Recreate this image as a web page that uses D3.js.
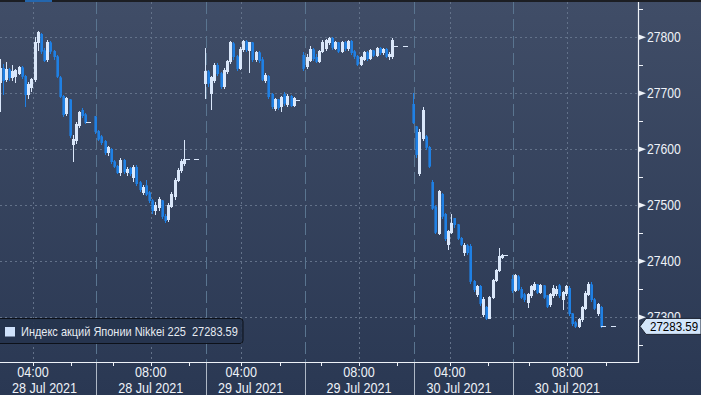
<!DOCTYPE html>
<html>
<head>
<meta charset="utf-8">
<script src="https://cdn.jsdelivr.net/npm/d3@7"></script>
<style>
html, body { margin: 0; padding: 0; background: #2c3a55; }
svg { display: block; }
text { font-family: "Liberation Sans", Arial, sans-serif; }
</style>
</head>
<body>
<svg id="chart" width="701" height="395"></svg>
<script>
// 5-minute bars [open, high, low, close], Nikkei 225, times in MSK
const dayLabels = ["28 Jul 2021", "29 Jul 2021", "30 Jul 2021"];
const morningStart = "03:00";
const afternoonStart = "06:30";

const jul28Morning = [
    [27735, 27750, 27712, 27720], [27720, 27762, 27667, 27745], [27745, 27752, 27697, 27722],
    [27724, 27756, 27720, 27742], [27742, 27745, 27722, 27728], [27728, 27750, 27722, 27738],
    [27730, 27744, 27718, 27740], [27736, 27749, 27733, 27746], [27746, 27748, 27726, 27730],
    [27730, 27732, 27676, 27697], [27697, 27720, 27690, 27715], [27710, 27728, 27702, 27725],
    [27724, 27800, 27720, 27790], [27790, 27812, 27775, 27808], [27805, 27808, 27770, 27775],
    [27776, 27780, 27755, 27758], [27760, 27795, 27756, 27790], [27790, 27794, 27770, 27775],
    [27775, 27778, 27760, 27765], [27765, 27768, 27728, 27730], [27728, 27730, 27692, 27695],
    [27695, 27697, 27658, 27662], [27664, 27693, 27660, 27690], [27688, 27690, 27620, 27625],
    [27608, 27625, 27578, 27618], [27615, 27648, 27610, 27645], [27642, 27668, 27638, 27665],
    [27670, 27673, 27656, 27660], [27662, 27665, 27645, 27648], [27649, 27649, 27649, 27649],
];
const jul28Afternoon = [
    [27658, 27660, 27628, 27632], [27632, 27635, 27615, 27618], [27622, 27625, 27608, 27612],
    [27614, 27617, 27590, 27594], [27594, 27605, 27588, 27604], [27600, 27602, 27574, 27578],
    [27578, 27580, 27566, 27570], [27570, 27572, 27555, 27558], [27558, 27584, 27552, 27580],
    [27580, 27582, 27556, 27560], [27558, 27568, 27552, 27564], [27566, 27569, 27552, 27556],
    [27550, 27572, 27542, 27568], [27568, 27572, 27535, 27538], [27540, 27543, 27524, 27528],
    [27522, 27536, 27518, 27532], [27535, 27545, 27516, 27520], [27522, 27525, 27504, 27508],
    [27508, 27512, 27485, 27490], [27490, 27505, 27482, 27500], [27496, 27514, 27490, 27510],
    [27508, 27510, 27476, 27480], [27480, 27484, 27468, 27472], [27474, 27504, 27470, 27500],
    [27498, 27524, 27495, 27520], [27515, 27548, 27510, 27545], [27545, 27566, 27541, 27562],
    [27562, 27582, 27558, 27578], [27574, 27617, 27570, 27582],
];
const jul29Morning = [
    [27718, 27781, 27690, 27738], [27738, 27742, 27712, 27718], [27700, 27730, 27670, 27728],
    [27722, 27754, 27718, 27750], [27750, 27754, 27730, 27735], [27735, 27738, 27708, 27712],
    [27712, 27745, 27708, 27740], [27738, 27760, 27735, 27756], [27756, 27793, 27752, 27790],
    [27788, 27792, 27760, 27765], [27765, 27768, 27740, 27745], [27745, 27782, 27742, 27778],
    [27778, 27795, 27774, 27792], [27792, 27796, 27774, 27778], [27776, 27792, 27736, 27790],
    [27790, 27792, 27756, 27760], [27760, 27776, 27756, 27772], [27772, 27775, 27754, 27758],
    [27760, 27764, 27722, 27725], [27722, 27736, 27718, 27732], [27730, 27733, 27690, 27694],
    [27698, 27700, 27672, 27676], [27672, 27692, 27668, 27688], [27688, 27690, 27670, 27674],
    [27676, 27695, 27667, 27692], [27698, 27702, 27678, 27682], [27680, 27699, 27676, 27695],
    [27695, 27697, 27675, 27678], [27678, 27693, 27675, 27690], [27688, 27688, 27688, 27688],
];
const jul29Afternoon = [
    [27768, 27773, 27740, 27745], [27748, 27770, 27744, 27764], [27758, 27784, 27755, 27778],
    [27778, 27781, 27758, 27762], [27764, 27770, 27754, 27757], [27757, 27778, 27754, 27775],
    [27775, 27795, 27772, 27790], [27780, 27797, 27776, 27795], [27790, 27800, 27786, 27798],
    [27798, 27800, 27778, 27782], [27780, 27793, 27777, 27790], [27790, 27792, 27772, 27775],
    [27775, 27794, 27772, 27790], [27790, 27793, 27776, 27780], [27780, 27796, 27776, 27793],
    [27793, 27796, 27768, 27772], [27774, 27777, 27762, 27766], [27766, 27769, 27748, 27752],
    [27752, 27767, 27748, 27764], [27760, 27775, 27757, 27772], [27772, 27775, 27758, 27762],
    [27762, 27779, 27759, 27776], [27776, 27778, 27765, 27768], [27768, 27782, 27765, 27780],
    [27780, 27782, 27768, 27772], [27772, 27781, 27769, 27779], [27779, 27781, 27763, 27766],
    [27766, 27773, 27760, 27770], [27766, 27798, 27762, 27795],
];
const jul30Morning = [
    [27680, 27700, 27645, 27647], [27640, 27642, 27585, 27590], [27556, 27636, 27553, 27630],
    [27620, 27675, 27615, 27670], [27622, 27625, 27598, 27604], [27604, 27606, 27566, 27570],
    [27541, 27545, 27492, 27495], [27497, 27500, 27448, 27452], [27450, 27527, 27447, 27524],
    [27520, 27522, 27476, 27480], [27484, 27486, 27436, 27440], [27430, 27456, 27420, 27453],
    [27452, 27485, 27448, 27468], [27477, 27478, 27460, 27465], [27465, 27467, 27438, 27441],
    [27441, 27444, 27427, 27430], [27415, 27432, 27410, 27428], [27428, 27430, 27412, 27415],
    [27427, 27430, 27360, 27364], [27364, 27366, 27345, 27349], [27340, 27358, 27336, 27355],
    [27355, 27357, 27320, 27325], [27305, 27336, 27300, 27332], [27318, 27320, 27295, 27298],
    [27298, 27338, 27296, 27336], [27336, 27369, 27333, 27366], [27366, 27387, 27363, 27384],
    [27384, 27424, 27380, 27408], [27406, 27413, 27404, 27411], [27411, 27411, 27411, 27411],
];
const jul30Afternoon = [
    [27368, 27376, 27344, 27348], [27348, 27378, 27345, 27375], [27372, 27375, 27346, 27350],
    [27350, 27354, 27332, 27336], [27340, 27344, 27328, 27331], [27326, 27343, 27316, 27340],
    [27338, 27358, 27334, 27355], [27350, 27362, 27346, 27358], [27358, 27360, 27342, 27345],
    [27345, 27359, 27342, 27356], [27356, 27358, 27333, 27336], [27338, 27340, 27316, 27320],
    [27322, 27344, 27318, 27341], [27338, 27358, 27335, 27352], [27342, 27356, 27338, 27350],
    [27356, 27360, 27334, 27338], [27332, 27347, 27313, 27344], [27342, 27358, 27338, 27354],
    [27352, 27355, 27302, 27306], [27306, 27308, 27284, 27288], [27290, 27294, 27280, 27284],
    [27283, 27299, 27280, 27296], [27296, 27320, 27292, 27318], [27316, 27346, 27313, 27343],
    [27340, 27362, 27337, 27358], [27358, 27362, 27328, 27331], [27331, 27334, 27312, 27316],
    [27306, 27326, 27302, 27322], [27318, 27320, 27281, 27283.59],
];
// closing prints after the session
const closePrices = [27582, 27784, 27283.59];
const closeTimes = ["08:55", "09:10"];

const labelTimes = ["04:00", "08:00"];
const minorTimes = ["05:00", "07:00", "09:00"];
const sessionOpens = [morningStart, afternoonStart];
const yTicks = [27300, 27400, 27500, 27600, 27700, 27800];
const yMinorTicks = [27250, 27350, 27450, 27550, 27650, 27750, 27850];
const lastPrice = 27283.59;
const seriesName = "Индекс акций Японии Nikkei 225";

const W = 701, H = 395;
const plot = { left: 0, right: 638, top: 2, bottom: 362 };
const DAY_SLOTS = 65.5;

// trading-time position (in 5-minute slots), lunch break squeezed to one slot
function slotOf(t) {
    const [h, m] = t.split(":").map(Number);
    const mins = (h - 3) * 60 + m;
    if (mins <= 150) return mins / 5;
    if (mins < 210) return 30 + (mins - 150) / 60;
    return 31 + (mins - 210) / 5;
}

const x = d3.scaleLinear().domain([1.13, 201.7]).range([plot.left, plot.right]);
const y = d3.scaleLinear().domain([27220, 27863]).range([plot.bottom, plot.top]);

let bars = [];
let dashes = [];
[[jul28Morning, jul28Afternoon], [jul29Morning, jul29Afternoon], [jul30Morning, jul30Afternoon]]
    .forEach(([am, pm], day) => {
        const base = day * DAY_SLOTS;
        am.forEach((b, i) => bars.push({ p: base + slotOf(morningStart) + i, o: b[0], h: b[1], l: b[2], c: b[3] }));
        pm.forEach((b, i) => bars.push({ p: base + slotOf(afternoonStart) + i, o: b[0], h: b[1], l: b[2], c: b[3] }));
        closeTimes.forEach((t) => dashes.push({ p: base + slotOf(t), v: closePrices[day] }));
    });
// flat bars (lunch print) drawn as dashes too
bars.filter((b) => b.o === b.h && b.h === b.l).forEach((b) => dashes.push({ p: b.p, v: b.c }));
bars = bars.filter((b) => !(b.o === b.h && b.h === b.l));

const svg = d3.select("#chart");
const defs = svg.append("defs");
const grad = defs.append("linearGradient").attr("id", "bg").attr("x1", 0).attr("y1", 0).attr("x2", 0).attr("y2", 1);
grad.append("stop").attr("offset", "0%").attr("stop-color", "#404d67");
grad.append("stop").attr("offset", "100%").attr("stop-color", "#2a3853");
defs.append("clipPath").attr("id", "plotClip").append("rect")
    .attr("x", plot.left).attr("y", plot.top)
    .attr("width", plot.right - plot.left).attr("height", plot.bottom - plot.top);

svg.append("rect").attr("width", W).attr("height", H).attr("fill", "url(#bg)");
svg.append("rect").attr("width", W).attr("height", 2).attr("fill", "#1c1e23");
svg.append("rect").attr("x", 25).attr("width", 27).attr("height", 2).attr("fill", "#2466ad");

// tick / separator positions
let labelTicks = [];
let minorTicks = [];
let separators = [];
dayLabels.forEach((d, day) => {
    const base = day * DAY_SLOTS;
    labelTimes.forEach((t) => labelTicks.push({ p: base + slotOf(t) - 0.5, time: t, date: d }));
    minorTimes.forEach((t) => minorTicks.push(base + slotOf(t) - 0.5));
    sessionOpens.forEach((t) => separators.push(base + slotOf(t) + 0.4));
});

const grid = svg.append("g");
grid.selectAll("line.h").data(yTicks).join("line")
    .attr("x1", plot.left).attr("x2", plot.right)
    .attr("y1", (d) => Math.round(y(d)) + 0.5).attr("y2", (d) => Math.round(y(d)) + 0.5)
    .attr("stroke", "#63728a").attr("stroke-dasharray", "2,3");
grid.selectAll("line.v").data(labelTicks).join("line")
    .attr("x1", (d) => Math.round(x(d.p)) + 0.5).attr("x2", (d) => Math.round(x(d.p)) + 0.5)
    .attr("y1", plot.top).attr("y2", plot.bottom)
    .attr("stroke", "#63728a").attr("stroke-dasharray", "2,3");
grid.selectAll("line.s").data(separators.filter((p) => x(p) > 0)).join("line")
    .attr("x1", (d) => Math.round(x(d)) + 0.5).attr("x2", (d) => Math.round(x(d)) + 0.5)
    .attr("y1", plot.top).attr("y2", plot.bottom)
    .attr("stroke", "#5a7590").attr("stroke-dasharray", "12,5");
grid.selectAll("line.sa").data(separators.filter((p) => x(p) > 0)).join("line")
    .attr("x1", (d) => Math.round(x(d)) + 0.5).attr("x2", (d) => Math.round(x(d)) + 0.5)
    .attr("y1", plot.bottom).attr("y2", H)
    .attr("stroke", "#aeb8c6");

// candles
const candles = svg.append("g").attr("clip-path", "url(#plotClip)").attr("shape-rendering", "crispEdges");
const up = "#dae7fa", down = "#1f80e4";
candles.selectAll("line.wick").data(bars).join("line")
    .attr("x1", (d) => Math.round(x(d.p)) + 0.5).attr("x2", (d) => Math.round(x(d.p)) + 0.5)
    .attr("y1", (d) => y(d.h)).attr("y2", (d) => y(d.l))
    .attr("stroke", (d) => (d.c >= d.o ? up : down));
candles.selectAll("rect.body").data(bars).join("rect")
    .attr("x", (d) => Math.round(x(d.p)) - 0.5)
    .attr("width", 2)
    .attr("y", (d) => y(Math.max(d.o, d.c)))
    .attr("height", (d) => Math.max(1, Math.abs(y(d.o) - y(d.c))))
    .attr("fill", (d) => (d.c >= d.o ? "none" : down))
    .attr("stroke", (d) => (d.c >= d.o ? up : down))
    .attr("stroke-width", (d) => (d.c >= d.o ? 1 : 0.6));
candles.selectAll("line.dash").data(dashes).join("line")
    .attr("x1", (d) => x(d.p) - 2.5).attr("x2", (d) => x(d.p) + 2.5)
    .attr("y1", (d) => Math.round(y(d.v)) + 0.5).attr("y2", (d) => Math.round(y(d.v)) + 0.5)
    .attr("stroke", up);

// legend
const legend = svg.append("g");
legend.append("rect").attr("x", -4).attr("y", 318.5).attr("width", 247).attr("height", 25).attr("rx", 3)
    .attr("fill", "#26344e").attr("fill-opacity", 0.9).attr("stroke", "#0d1119");
legend.append("rect").attr("x", 5).attr("y", 327).attr("width", 10).attr("height", 9.5).attr("fill", "#d0e2fb");
legend.append("text").attr("transform", "translate(21,336) scale(0.9,1)")
    .style("white-space", "pre").attr("font-size", 12.2).attr("fill", "#e6ebf2")
    .text(seriesName + "  " + d3.format(".2f")(lastPrice));

// axes lines
svg.append("line").attr("x1", 0).attr("x2", plot.right + 1).attr("y1", plot.bottom + 0.5).attr("y2", plot.bottom + 0.5)
    .attr("stroke", "#eef2f8").attr("stroke-width", 1.2);
svg.append("line").attr("x1", plot.right + 0.5).attr("x2", plot.right + 0.5).attr("y1", plot.top).attr("y2", plot.bottom + 1)
    .attr("stroke", "#eef2f8").attr("stroke-width", 1.2);

// x ticks and labels
svg.selectAll("line.xminor").data(minorTicks.concat(labelTicks.map((d) => d.p)).filter((p) => x(p) > 0 && x(p) < plot.right)).join("line")
    .attr("x1", (d) => Math.round(x(d)) + 0.5).attr("x2", (d) => Math.round(x(d)) + 0.5)
    .attr("y1", plot.bottom).attr("y2", plot.bottom + 4).attr("stroke", "#eef2f8");

const sepX = separators.map((p) => Math.max(0, x(p))).sort((a, b) => a - b);
function placeLabel(sel, tx) {
    const w = sel.node().getComputedTextLength() * 0.9;
    const prev = sepX.filter((s) => s <= tx).pop() || 0;
    const left = Math.max(tx - w / 2, prev + 12);
    return left + w / 2;
}
labelTicks.forEach((d) => {
    const tx = x(d.p);
    [[d.time, 377], [d.date, 393]].forEach(([txt, by]) => {
        const t = svg.append("text").attr("font-size", 14).attr("fill", "#eef2f8")
            .attr("text-anchor", "middle").text(txt);
        const cx = placeLabel(t, tx);
        t.attr("transform", `translate(${cx},${by}) scale(0.9,1)`);
    });
});

// y ticks and labels
svg.selectAll("path.ymark").data(yTicks).join("path")
    .attr("d", (d) => `M${plot.right},${y(d) - 3}L${plot.right + 8},${y(d)}L${plot.right},${y(d) + 3}Z`)
    .attr("fill", "#eef2f8");
svg.selectAll("line.yminor").data(yMinorTicks).join("line")
    .attr("x1", plot.right).attr("x2", plot.right + 5)
    .attr("y1", (d) => Math.round(y(d)) + 0.5).attr("y2", (d) => Math.round(y(d)) + 0.5)
    .attr("stroke", "#eef2f8");
svg.selectAll("text.ylab").data(yTicks).join("text")
    .attr("transform", (d) => `translate(${plot.right + 9},${y(d) + 5}) scale(0.87,1)`)
    .attr("font-size", 14).attr("fill", "#eef2f8")
    .text((d) => d);

// last price tag
const ly = y(lastPrice);
svg.append("path")
    .attr("d", `M${plot.right + 2},${ly}L${plot.right + 8},${ly - 8}L${W},${ly - 8}L${W},${ly + 8}L${plot.right + 8},${ly + 8}Z`)
    .attr("fill", "#d3e6fb").attr("stroke", "#1b2230");
svg.append("text").attr("transform", `translate(${plot.right + 12},${ly + 4.5}) scale(0.89,1)`)
    .attr("font-size", 13).attr("fill", "#000").text(d3.format(".2f")(lastPrice));
</script>
</body>
</html>
